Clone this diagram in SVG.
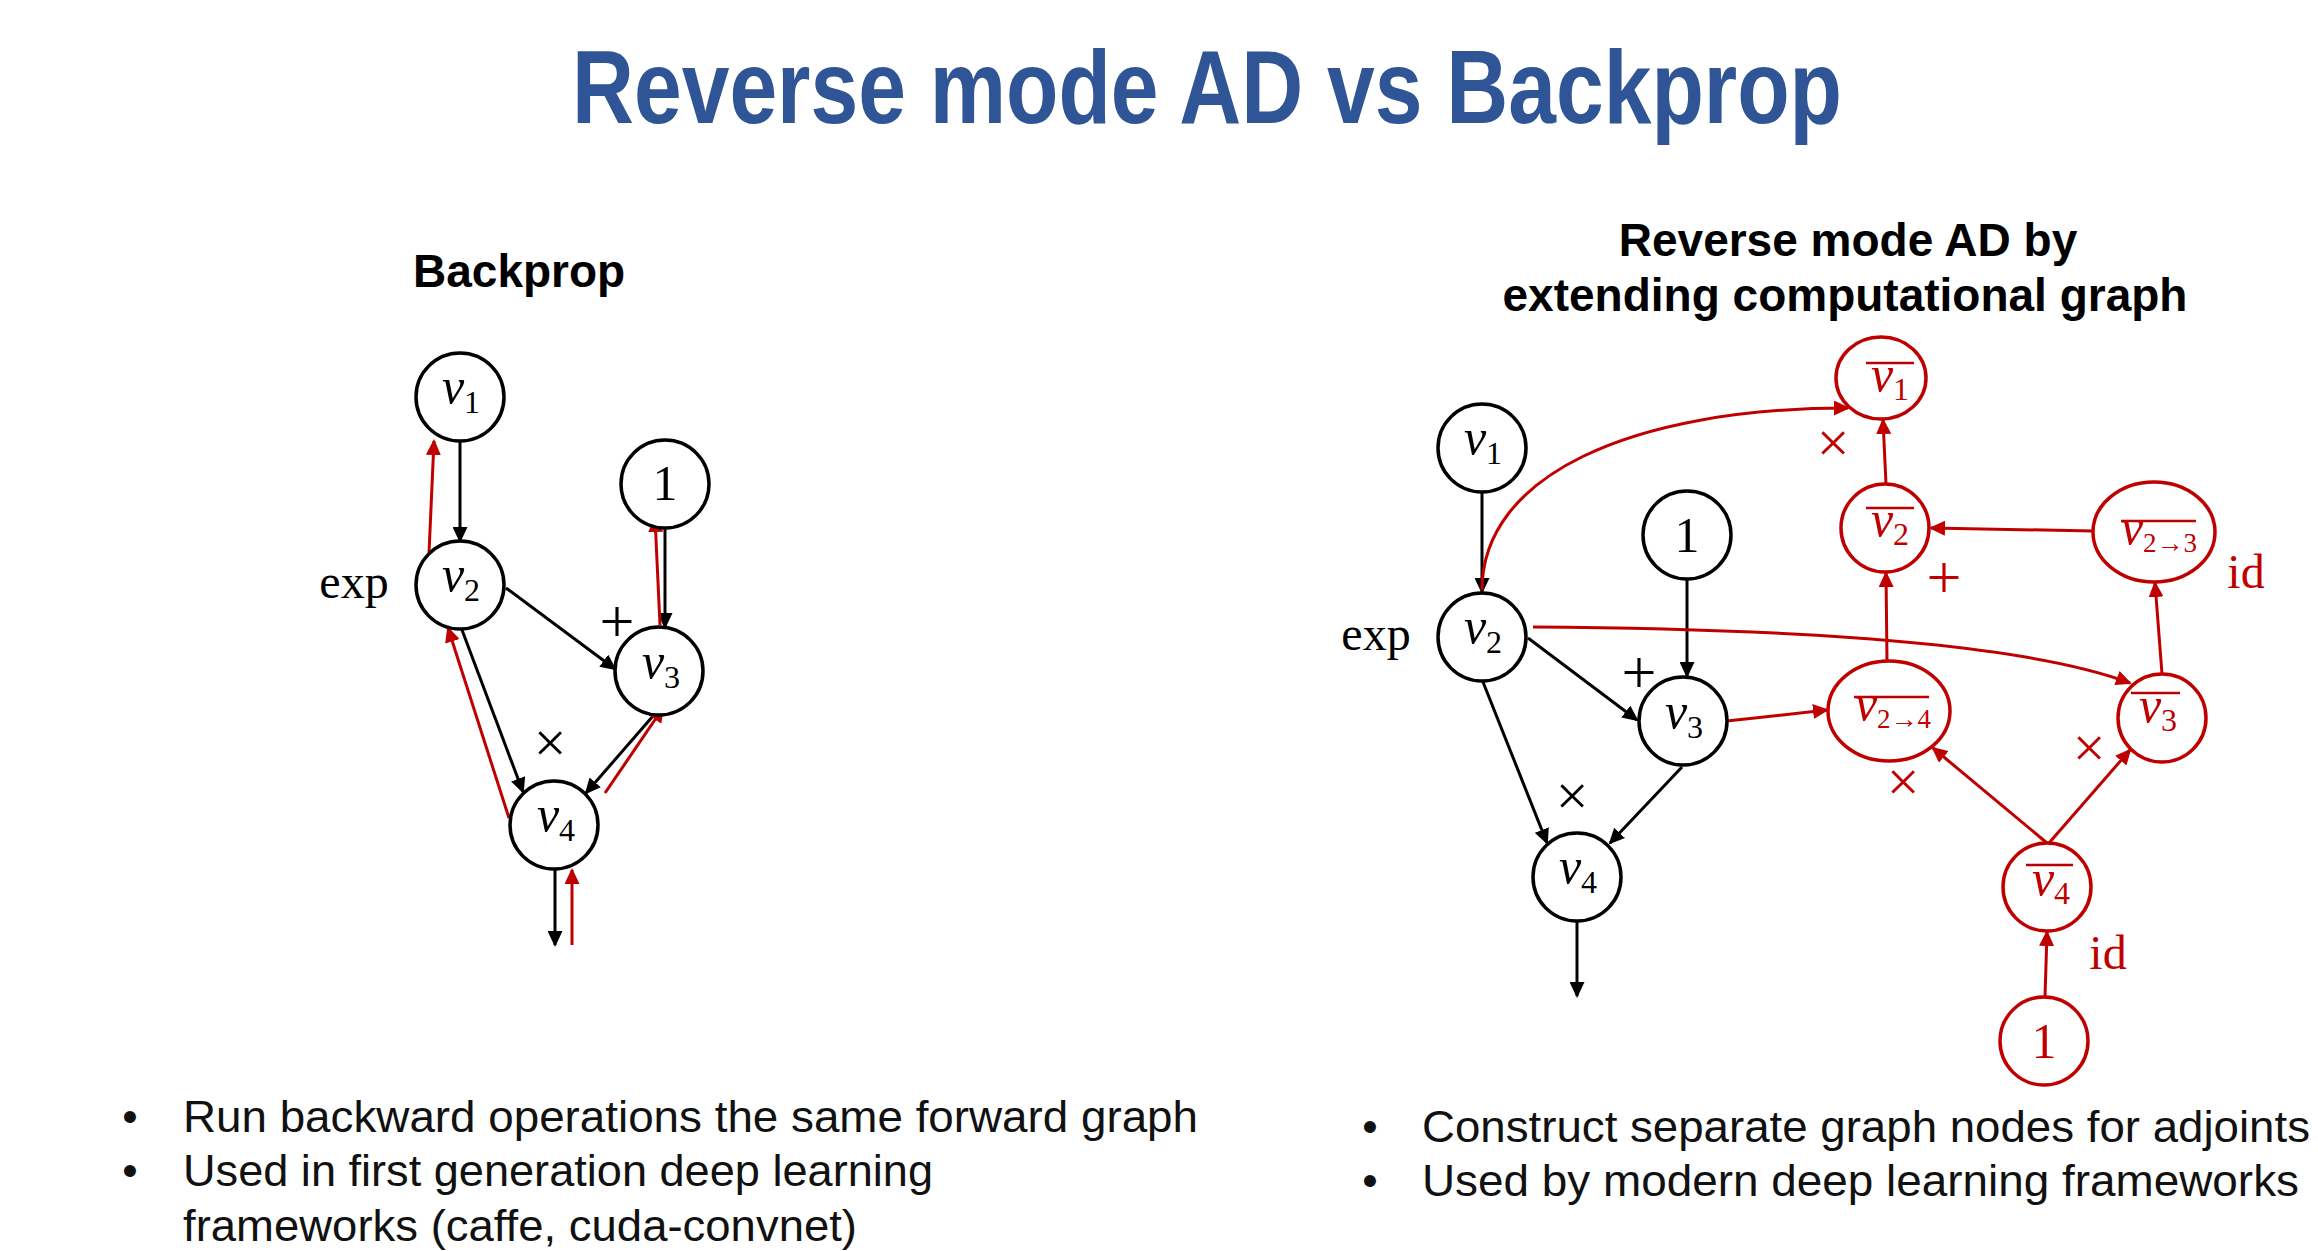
<svg xmlns="http://www.w3.org/2000/svg" width="2318" height="1251" viewBox="0 0 2318 1251">
<defs>
<marker id="ab" markerUnits="userSpaceOnUse" markerWidth="17" markerHeight="15" refX="14" refY="7.5" orient="auto"><path d="M0,0 L16,7.5 L0,15 z" fill="#000"/></marker>
<marker id="ar" markerUnits="userSpaceOnUse" markerWidth="17" markerHeight="15" refX="14" refY="7.5" orient="auto"><path d="M0,0 L16,7.5 L0,15 z" fill="#C00000"/></marker>
</defs>
<style>
.nb{fill:#fff;stroke:#000;stroke-width:3.5}
.nr{fill:#fff;stroke:#C00000;stroke-width:3.5}
.lb{font-family:"Liberation Serif",serif;font-size:50px;fill:#000;text-anchor:middle}
.lr{font-family:"Liberation Serif",serif;font-size:50px;fill:#C00000;text-anchor:middle}
.it{font-style:italic}
.sub{font-size:32px;font-style:normal}
.sub2{font-size:27px;font-style:normal}
.bar{stroke:#C00000;stroke-width:2.5}
.eb{fill:none;stroke:#000;stroke-width:3}
.er{fill:none;stroke:#C00000;stroke-width:3}
.op{font-family:"Liberation Serif",serif;font-size:48px;text-anchor:middle}
.x{font-size:58px}
.p{font-size:62px}
.title{font-family:"Liberation Sans",Arial,sans-serif;font-weight:bold;font-size:103px;fill:#2F5597}
.sh{font-family:"Liberation Sans",Arial,sans-serif;font-weight:bold;font-size:46px;fill:#000}
.bt{font-family:"Liberation Sans",Arial,sans-serif;font-size:44px;fill:#111}
</style>
<rect width="2318" height="1251" fill="#fff"/>

<text class="title" x="572" y="123" textLength="1270" lengthAdjust="spacingAndGlyphs">Reverse mode AD vs Backprop</text>
<text class="sh" x="413" y="287">Backprop</text>
<text class="sh" x="1848" y="256" text-anchor="middle">Reverse mode AD by</text>
<text class="sh" x="1845" y="311" text-anchor="middle">extending computational graph</text>

<g id="connectors">
<line class="eb" x1="460" y1="441" x2="460" y2="541" marker-end="url(#ab)"/>
<line class="eb" x1="665" y1="528" x2="665" y2="627" marker-end="url(#ab)"/>
<line class="eb" x1="506" y1="588" x2="615" y2="669" marker-end="url(#ab)"/>
<line class="eb" x1="462" y1="630" x2="523" y2="792" marker-end="url(#ab)"/>
<line class="eb" x1="653" y1="716" x2="586" y2="793" marker-end="url(#ab)"/>
<line class="eb" x1="555" y1="870" x2="555" y2="945" marker-end="url(#ab)"/>
<line class="er" x1="429" y1="553" x2="434" y2="441" marker-end="url(#ar)"/>
<line class="er" x1="660" y1="625" x2="655" y2="518" marker-end="url(#ar)"/>
<line class="er" x1="509" y1="818" x2="448" y2="628" marker-end="url(#ar)"/>
<line class="er" x1="605" y1="793" x2="663" y2="708" marker-end="url(#ar)"/>
<line class="er" x1="572" y1="945" x2="572" y2="870" marker-end="url(#ar)"/>
<line class="eb" x1="1482" y1="493" x2="1482" y2="592" marker-end="url(#ab)"/>
<line class="eb" x1="1687" y1="580" x2="1687" y2="676" marker-end="url(#ab)"/>
<line class="eb" x1="1528" y1="638" x2="1637" y2="720" marker-end="url(#ab)"/>
<line class="eb" x1="1483" y1="682" x2="1547" y2="843" marker-end="url(#ab)"/>
<line class="eb" x1="1682" y1="767" x2="1610" y2="843" marker-end="url(#ab)"/>
<line class="eb" x1="1577" y1="921" x2="1577" y2="996" marker-end="url(#ab)"/>
<path class="er" d="M1482,590 C1482,476 1630,408 1848,408" marker-end="url(#ar)"/>
<path class="er" d="M1533,627 Q1990,630 2130,683" marker-end="url(#ar)"/>
<line class="er" x1="1727" y1="721" x2="1827" y2="710" marker-end="url(#ar)"/>
<line class="er" x1="1887" y1="661" x2="1886" y2="573" marker-end="url(#ar)"/>
<line class="er" x1="1886" y1="484" x2="1883" y2="420" marker-end="url(#ar)"/>
<line class="er" x1="2093" y1="531" x2="1931" y2="528" marker-end="url(#ar)"/>
<line class="er" x1="2162" y1="674" x2="2155" y2="583" marker-end="url(#ar)"/>
<line class="er" x1="2047" y1="843" x2="1933" y2="748" marker-end="url(#ar)"/>
<line class="er" x1="2049" y1="843" x2="2130" y2="750" marker-end="url(#ar)"/>
<line class="er" x1="2045" y1="997" x2="2047" y2="932" marker-end="url(#ar)"/>
</g>

<g id="bp-v1"><circle class="nb" cx="460" cy="397" r="44"/><text class="lb" x="461" y="403"><tspan class="it">v</tspan><tspan class="sub" dy="10">1</tspan></text></g>
<g id="bp-one"><circle class="nb" cx="665" cy="484" r="44"/><text class="lb" x="665" y="500" font-size="48">1</text></g>
<g id="bp-v2"><circle class="nb" cx="460" cy="585" r="44"/><text class="lb" x="461" y="591"><tspan class="it">v</tspan><tspan class="sub" dy="10">2</tspan></text></g>
<g id="bp-v3"><circle class="nb" cx="659" cy="671" r="44"/><text class="lb" x="661" y="678"><tspan class="it">v</tspan><tspan class="sub" dy="10">3</tspan></text></g>
<g id="bp-v4"><circle class="nb" cx="554" cy="825" r="44"/><text class="lb" x="556" y="831"><tspan class="it">v</tspan><tspan class="sub" dy="10">4</tspan></text></g>

<g id="ad-v1"><circle class="nb" cx="1482" cy="448" r="44"/><text class="lb" x="1483" y="454"><tspan class="it">v</tspan><tspan class="sub" dy="10">1</tspan></text></g>
<g id="ad-v2"><circle class="nb" cx="1482" cy="637" r="44"/><text class="lb" x="1483" y="643"><tspan class="it">v</tspan><tspan class="sub" dy="10">2</tspan></text></g>
<g id="ad-one"><circle class="nb" cx="1687" cy="535" r="44"/><text class="lb" x="1687" y="552" font-size="48">1</text></g>
<g id="ad-v3"><circle class="nb" cx="1683" cy="721" r="44"/><text class="lb" x="1684" y="728"><tspan class="it">v</tspan><tspan class="sub" dy="10">3</tspan></text></g>
<g id="ad-v4"><circle class="nb" cx="1577" cy="877" r="44"/><text class="lb" x="1578" y="883"><tspan class="it">v</tspan><tspan class="sub" dy="10">4</tspan></text></g>

<g id="ad-v1bar"><ellipse class="nr" cx="1881" cy="378" rx="45" ry="41"/><line class="bar" x1="1866" y1="363" x2="1914" y2="363"/><text class="lr" x="1890" y="391"><tspan class="it">v</tspan><tspan class="sub" dy="9">1</tspan></text></g>
<g id="ad-v2bar"><circle class="nr" cx="1885" cy="528" r="44"/><line class="bar" x1="1866" y1="508" x2="1914" y2="508"/><text class="lr" x="1890" y="536"><tspan class="it">v</tspan><tspan class="sub" dy="9">2</tspan></text></g>
<g id="ad-v23bar"><ellipse class="nr" cx="2154" cy="532" rx="61" ry="50"/><line class="bar" x1="2121" y1="521" x2="2196" y2="521"/><text class="lr" x="2159" y="544"><tspan class="it">v</tspan><tspan class="sub2" dy="8">2→3</tspan></text></g>
<g id="ad-v24bar"><ellipse class="nr" cx="1889" cy="711" rx="61" ry="50"/><line class="bar" x1="1854" y1="697" x2="1929" y2="697"/><text class="lr" x="1893" y="720"><tspan class="it">v</tspan><tspan class="sub2" dy="8">2→4</tspan></text></g>
<g id="ad-v3bar"><circle class="nr" cx="2162" cy="718" r="44"/><line class="bar" x1="2131" y1="693" x2="2180" y2="693"/><text class="lr" x="2158" y="722"><tspan class="it">v</tspan><tspan class="sub" dy="9">3</tspan></text></g>
<g id="ad-v4bar"><circle class="nr" cx="2047" cy="887" r="44"/><line class="bar" x1="2026" y1="865" x2="2073" y2="865"/><text class="lr" x="2051" y="895"><tspan class="it">v</tspan><tspan class="sub" dy="9">4</tspan></text></g>
<g id="ad-onebar"><circle class="nr" cx="2044" cy="1041" r="44"/><text class="lr" x="2044" y="1058" font-size="48">1</text></g>

<g id="op-labels">
<text class="op" x="354" y="598" fill="#000">exp</text>
<text class="op p" x="617" y="642" fill="#000">+</text>
<text class="op x" x="550" y="762" fill="#000">×</text>
<text class="op" x="1376" y="650" fill="#000">exp</text>
<text class="op p" x="1639" y="693" fill="#000">+</text>
<text class="op x" x="1572" y="815" fill="#000">×</text>
<text class="op x" x="1833" y="462" fill="#C00000">×</text>
<text class="op p" x="1944" y="598" fill="#C00000">+</text>
<text class="op" x="2246" y="588" fill="#C00000" font-size="46">id</text>
<text class="op x" x="1903" y="801" fill="#C00000">×</text>
<text class="op x" x="2089" y="767" fill="#C00000">×</text>
<text class="op" x="2108" y="969" fill="#C00000" font-size="46">id</text>
</g>

<g id="bullets">
<text class="bt" x="130" y="1132" text-anchor="middle">•</text>
<text class="bt" x="183" y="1132" textLength="1015" lengthAdjust="spacingAndGlyphs">Run backward operations the same forward graph</text>
<text class="bt" x="130" y="1186" text-anchor="middle">•</text>
<text class="bt" x="183" y="1186" textLength="750" lengthAdjust="spacingAndGlyphs">Used in first generation deep learning</text>
<text class="bt" x="183" y="1241" textLength="674" lengthAdjust="spacingAndGlyphs">frameworks (caffe, cuda-convnet)</text>
<text class="bt" x="1370" y="1142" text-anchor="middle">•</text>
<text class="bt" x="1422" y="1142" textLength="888" lengthAdjust="spacingAndGlyphs">Construct separate graph nodes for adjoints</text>
<text class="bt" x="1370" y="1196" text-anchor="middle">•</text>
<text class="bt" x="1422" y="1196" textLength="877" lengthAdjust="spacingAndGlyphs">Used by modern deep learning frameworks</text>
</g>
</svg>
